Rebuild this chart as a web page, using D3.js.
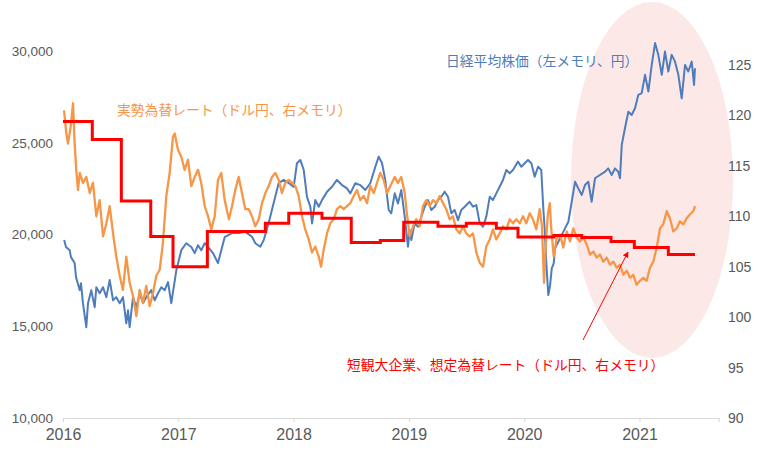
<!DOCTYPE html>
<html><head><meta charset="utf-8">
<script src="https://cdn.jsdelivr.net/npm/d3@7"></script>
<style>body{margin:0;background:#fff}svg{display:block}</style>
</head><body>
<svg id="c" width="760" height="465"></svg>
<script>
// decimal-year positions
const nikkeiT = [2016.01,2016.026,2016.058,2016.069,2016.101,2016.113,2016.145,2016.156,2016.173,2016.202,2016.217,2016.245,2016.275,2016.289,2016.318,2016.347,2016.376,2016.405,2016.434,2016.462,2016.492,2016.52,2016.549,2016.564,2016.578,2016.607,2016.636,2016.665,2016.694,2016.722,2016.766,2016.795,2016.824,2016.853,2016.882,2016.911,2016.939,2016.983,2017.026,2017.069,2017.113,2017.142,2017.171,2017.199,2017.229,2017.258,2017.301,2017.344,2017.373,2017.402,2017.466,2017.524,2017.581,2017.639,2017.668,2017.711,2017.741,2017.784,2017.827,2017.871,2017.914,2017.958,2018.001,2018.029,2018.058,2018.088,2018.116,2018.145,2018.16,2018.188,2018.218,2018.246,2018.29,2018.333,2018.376,2018.42,2018.463,2018.492,2018.535,2018.578,2018.622,2018.665,2018.709,2018.738,2018.767,2018.795,2018.825,2018.847,2018.877,2018.905,2018.934,2018.964,2018.992,2019.007,2019.021,2019.05,2019.079,2019.108,2019.137,2019.166,2019.194,2019.224,2019.252,2019.281,2019.31,2019.339,2019.368,2019.397,2019.426,2019.454,2019.484,2019.527,2019.556,2019.585,2019.614,2019.643,2019.671,2019.701,2019.729,2019.758,2019.787,2019.816,2019.845,2019.874,2019.903,2019.946,2019.975,2020.004,2020.033,2020.062,2020.091,2020.12,2020.148,2020.165,2020.178,2020.192,2020.209,2020.224,2020.239,2020.256,2020.267,2020.296,2020.325,2020.354,2020.383,2020.412,2020.441,2020.469,2020.499,2020.527,2020.556,2020.585,2020.614,2020.657,2020.701,2020.729,2020.759,2020.787,2020.816,2020.831,2020.846,2020.874,2020.903,2020.932,2020.961,2020.99,2021.019,2021.048,2021.077,2021.106,2021.135,2021.163,2021.193,2021.221,2021.25,2021.279,2021.308,2021.337,2021.366,2021.395,2021.423,2021.453,2021.473,2021.481];
const nikkei = [19700,19320,19150,18770,18450,17680,16970,17350,16260,14950,16260,16970,16040,17130,16800,17130,16590,17520,16420,16590,16260,16590,15160,15870,14950,16590,16040,16800,16260,16590,16970,16420,16800,17130,16970,17410,16260,18050,19150,19530,19320,18990,19420,19150,19530,19320,18990,18450,19150,19860,20080,20080,20150,19880,19530,19340,19700,20630,21720,22810,22980,22810,22600,23890,24070,23520,22060,21520,20610,21880,21520,21880,22340,22610,22980,22700,22520,22250,22800,22700,22430,22800,23700,24250,23890,22980,21340,21160,22250,21700,22430,20970,19340,20250,19700,20610,20430,20970,21520,21880,21340,21520,21880,22060,22340,22060,21160,21340,20790,21340,21520,21790,21520,21610,20610,20430,20970,22060,21880,22250,22610,22980,23520,23340,23520,23980,23700,23890,24070,23890,23160,23700,23520,21500,20250,18430,16700,17200,18160,18430,19250,19610,19970,20340,20700,21790,22880,22520,22160,22700,22880,21790,23070,23250,23430,23610,23250,23610,23430,23070,24890,25800,26700,26520,26890,27620,27710,28710,27800,29250,30440,29800,28710,29980,28890,29800,29430,28710,27430,29250,28890,29430,28160,29070];

const fxT = [2016.009,2016.029,2016.043,2016.067,2016.087,2016.101,2016.115,2016.13,2016.145,2016.173,2016.202,2016.232,2016.26,2016.289,2016.318,2016.347,2016.376,2016.405,2016.434,2016.462,2016.492,2016.52,2016.549,2016.578,2016.607,2016.636,2016.665,2016.694,2016.722,2016.752,2016.781,2016.809,2016.839,2016.867,2016.896,2016.925,2016.954,2016.969,2016.997,2017.026,2017.055,2017.084,2017.113,2017.142,2017.171,2017.199,2017.229,2017.258,2017.286,2017.316,2017.344,2017.373,2017.402,2017.439,2017.466,2017.494,2017.524,2017.552,2017.581,2017.611,2017.639,2017.668,2017.698,2017.726,2017.755,2017.784,2017.813,2017.841,2017.871,2017.899,2017.928,2017.958,2017.986,2018.015,2018.044,2018.073,2018.101,2018.131,2018.16,2018.188,2018.218,2018.238,2018.261,2018.29,2018.318,2018.348,2018.376,2018.405,2018.435,2018.463,2018.492,2018.521,2018.55,2018.578,2018.608,2018.637,2018.665,2018.695,2018.723,2018.752,2018.781,2018.81,2018.839,2018.877,2018.905,2018.934,2018.964,2018.978,2019.007,2019.036,2019.064,2019.094,2019.122,2019.151,2019.18,2019.209,2019.238,2019.267,2019.296,2019.324,2019.354,2019.382,2019.411,2019.441,2019.469,2019.498,2019.527,2019.556,2019.585,2019.614,2019.643,2019.671,2019.701,2019.729,2019.758,2019.787,2019.816,2019.845,2019.874,2019.903,2019.931,2019.961,2019.99,2020.018,2020.048,2020.076,2020.105,2020.134,2020.154,2020.172,2020.186,2020.206,2020.222,2020.235,2020.256,2020.279,2020.31,2020.339,2020.369,2020.397,2020.426,2020.455,2020.484,2020.513,2020.542,2020.571,2020.6,2020.629,2020.657,2020.686,2020.716,2020.744,2020.773,2020.802,2020.831,2020.86,2020.889,2020.918,2020.946,2020.975,2021.004,2021.033,2021.062,2021.091,2021.12,2021.149,2021.178,2021.206,2021.236,2021.264,2021.293,2021.323,2021.351,2021.38,2021.409,2021.438,2021.467,2021.481];
const fx = [120.5,118.2,117.2,118.9,121.2,117.2,114.6,112.6,114.3,113.3,113.9,112.3,113.3,110.0,111.6,108.0,109.3,111.0,108.3,106.0,104.1,102.7,106.0,103.4,102.1,100.1,102.7,101.4,103.1,101.1,102.4,104.1,104.7,107.4,112.0,114.3,117.9,118.2,116.6,115.9,114.6,115.6,113.0,113.9,114.6,113.3,111.0,110.0,108.7,110.0,113.6,114.3,111.6,109.7,111.0,112.6,113.9,112.3,110.7,110.7,110.0,109.0,109.7,111.3,112.3,113.0,113.9,114.3,113.6,112.3,113.3,113.6,113.3,113.0,112.0,110.0,108.7,107.7,106.4,107.0,106.0,105.0,106.7,108.3,109.3,109.7,110.7,111.0,110.7,111.0,111.3,112.0,112.6,111.6,112.0,111.3,113.0,112.3,113.3,114.3,113.6,112.3,113.0,113.9,113.3,113.9,112.3,110.7,108.0,109.0,109.7,109.0,111.0,111.6,111.0,111.6,111.3,112.0,111.3,110.7,109.7,110.0,108.7,108.3,109.0,108.3,108.0,108.3,106.4,105.4,105.0,107.0,107.7,108.7,107.7,108.3,109.0,108.7,109.7,109.3,109.7,109.3,110.0,109.3,110.3,109.7,108.7,110.7,109.0,103.4,107.0,110.3,111.3,108.7,106.0,107.7,108.2,106.9,108.5,107.5,108.8,107.9,107.5,107.9,107.2,106.2,106.5,105.9,106.2,105.5,105.9,105.2,105.5,104.9,105.2,104.2,104.6,103.9,104.2,103.2,103.6,103.9,103.6,104.9,105.5,106.9,108.8,109.2,110.5,109.8,108.5,108.8,109.5,109.2,109.8,110.2,110.5,111.0];

// Tankan assumed rate: start of each step, value; last entry = end of line
const tankanT = [2016.0,2016.254,2016.506,2016.761,2016.954,2017.252,2017.755,2017.958,2018.246,2018.5,2018.752,2018.955,2019.252,2019.498,2019.758,2019.946,2020.258,2020.499,2020.753,2020.955,2021.25,2021.481];
const tankan = [119.4,117.6,111.5,108.0,105.0,108.5,109.3,110.3,109.8,107.4,107.6,109.4,109.0,109.3,108.8,107.95,108.1,107.9,107.5,106.9,106.2,106.2];

const yearTicks = [2016,2017,2018,2019,2020,2021];
const leftTicks = [10000,15000,20000,25000,30000];
const rightTicks = [90,95,100,105,110,115,120,125];

const labelNikkei = "日経平均株価（左メモリ、円）";
const labelFx = "実勢為替レート（ドル円、右メモリ）";
const labelTankan = "短観大企業、想定為替レート（ドル円、右メモリ）";

const svg = d3.select("#c");
const x = d3.scaleLinear().domain([2016, 2021.686]).range([63, 718.6]);
const yL = d3.scaleLinear().domain([10000, 32000]).range([418, 14.5]);
const yR = d3.scaleLinear().domain([90, 130]).range([418, 14.5]);
const numFont = "'Liberation Sans', Arial, sans-serif";
const jpFont = "'Noto Sans CJK JP', sans-serif";

// highlight ellipse
svg.append("ellipse").attr("cx", 652).attr("cy", 180).attr("rx", 81).attr("ry", 178)
  .attr("fill", "#fde8e8");

// x axis
const xa = svg.append("g").attr("transform", "translate(0,418)")
  .call(d3.axisBottom(x).tickValues(yearTicks).tickFormat(d3.format("d")).tickSize(4).tickPadding(7));
xa.select(".domain").attr("stroke", "#d9d9d9").attr("stroke-width", 1.2);
xa.selectAll(".tick line").attr("stroke", "#d9d9d9");
xa.selectAll("text").attr("fill", "#595959").style("font-family", numFont).style("font-size", "16px");

// left axis labels
const la = svg.append("g").attr("transform", "translate(53,0)")
  .call(d3.axisLeft(yL).tickValues(leftTicks).tickFormat(d3.format(",")).tickSize(0).tickPadding(0));
la.select(".domain").remove();
la.selectAll("text").attr("fill", "#595959").style("font-family", numFont).style("font-size", "13.5px");

// right axis labels
const ra = svg.append("g").attr("transform", "translate(728,0)")
  .call(d3.axisRight(yR).tickValues(rightTicks).tickFormat(d3.format("d")).tickSize(0).tickPadding(0));
ra.select(".domain").remove();
ra.selectAll("text").attr("fill", "#595959").style("font-family", numFont).style("font-size", "14px");

// lines
const nikkeiData = nikkeiT.map((t, i) => [t, nikkei[i]]);
const fxData = fxT.map((t, i) => [t, fx[i]]);
const tankanData = tankanT.map((t, i) => [t, tankan[i]]);

svg.append("path").datum(nikkeiData)
  .attr("d", d3.line().x(d => x(d[0])).y(d => yL(d[1])))
  .attr("fill", "none").attr("stroke", "#4f7cbb").attr("stroke-width", 2).attr("stroke-linejoin", "round");
svg.append("path").datum(fxData)
  .attr("d", d3.line().x(d => x(d[0])).y(d => yR(d[1])))
  .attr("fill", "none").attr("stroke", "#f79646").attr("stroke-width", 2.3).attr("stroke-linejoin", "round");
svg.append("path").datum(tankanData)
  .attr("d", d3.line().curve(d3.curveStepAfter).x(d => x(d[0])).y(d => yR(d[1])))
  .attr("fill", "none").attr("stroke", "#ff0000").attr("stroke-width", 3);

// labels
svg.append("text").attr("x", 446).attr("y", 62).attr("dominant-baseline", "middle")
  .style("font-family", jpFont).style("font-size", "13.8px").attr("fill", "#4f7cbb").text(labelNikkei);
svg.append("text").attr("x", 117).attr("y", 111).attr("dominant-baseline", "middle")
  .style("font-family", jpFont).style("font-size", "13.8px").attr("fill", "#f79646").text(labelFx);
svg.append("text").attr("x", 347).attr("y", 366).attr("dominant-baseline", "middle")
  .style("font-family", jpFont).style("font-size", "13.8px").attr("fill", "#ff0000").text(labelTankan);

// arrow
svg.append("defs").append("marker").attr("id", "ah").attr("viewBox", "0 0 10 10")
  .attr("refX", 9).attr("refY", 5).attr("markerWidth", 6).attr("markerHeight", 6).attr("orient", "auto")
  .append("path").attr("d", "M0,0L10,5L0,10z").attr("fill", "#ff0000");
svg.append("line").attr("x1", 583).attr("y1", 340).attr("x2", 628).attr("y2", 252)
  .attr("stroke", "#ff0000").attr("stroke-width", 1).attr("marker-end", "url(#ah)");
</script>
</body></html>
